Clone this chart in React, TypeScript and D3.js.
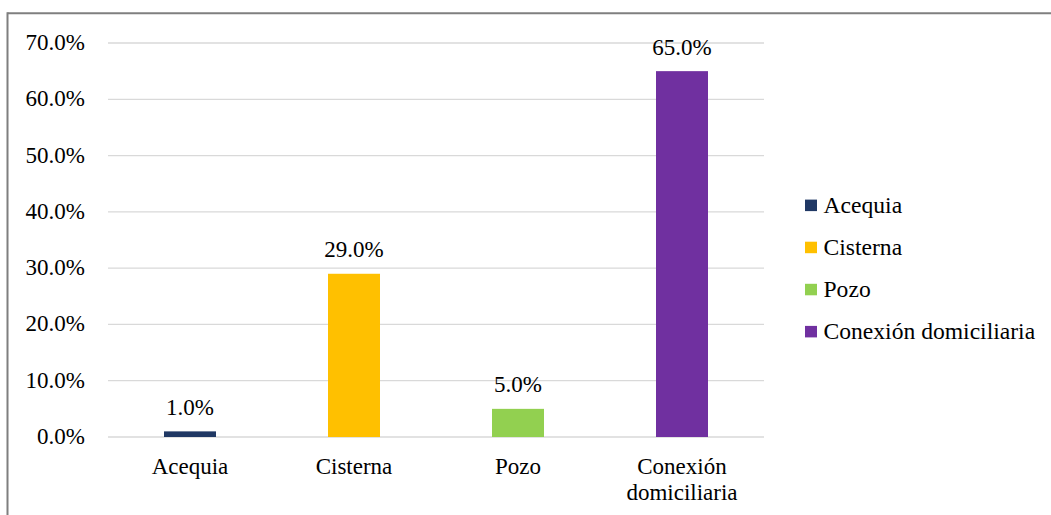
import React from "react";
import * as d3 from "d3";

const categories = ["Acequia", "Cisterna", "Pozo", "Conexión domiciliaria"];
const values = [1.0, 29.0, 5.0, 65.0];
const colors = ["#203864", "#FFC000", "#92D050", "#7030A0"];
const yTicks = [0, 10, 20, 30, 40, 50, 60, 70];
const catLines = [["Acequia"], ["Cisterna"], ["Pozo"], ["Conexión", "domiciliaria"]];

export default function App() {
  const W = 1051, H = 515;
  const x = d3.scaleBand<string>().domain(categories).range([108, 764]);
  const y = d3.scaleLinear().domain([0, 70]).range([437, 43]);
  const barW = 52;
  const font = '"Liberation Serif", Tinos, "Times New Roman", serif';
  const fs = 23;
  return (
    <svg width={W} height={H} style={{ position: "absolute", left: 0, top: 0, fontFamily: font }}>
      <rect width={W} height={H} fill="#fff" />
      <line x1={7.5} y1={13.3} x2={W} y2={13.3} stroke="#7f7f7f" strokeWidth={2} />
      <line x1={7.5} y1={12.3} x2={7.5} y2={H} stroke="#7f7f7f" strokeWidth={2} />
      {yTicks.map((t) => (
        <g key={t}>
          <line x1={108} x2={764} y1={y(t)} y2={y(t)} stroke="#d9d9d9" strokeWidth={1.3} />
          <text x={85} y={y(t) + 7} textAnchor="end" fontSize={fs} fill="#000" style={{ fontFamily: font }}>
            {t.toFixed(1)}%
          </text>
        </g>
      ))}
      {categories.map((c, i) => {
        const cx = x(c)! + x.bandwidth() / 2;
        return (
          <g key={c}>
            <rect x={cx - barW / 2} y={y(values[i])} width={barW} height={y(0) - y(values[i])} fill={colors[i]} />
            <text x={cx} y={y(values[i]) - 16.5} textAnchor="middle" fontSize={fs} fill="#000" style={{ fontFamily: font }}>
              {values[i].toFixed(1)}%
            </text>
            {catLines[i].map((l, j) => (
              <text key={j} x={cx} y={474 + j * 26} textAnchor="middle" fontSize={fs} fill="#000" style={{ fontFamily: font }}>
                {l}
              </text>
            ))}
          </g>
        );
      })}
      {categories.map((c, i) => {
        const cy = 205.3 + i * 42.1;
        return (
          <g key={c}>
            <rect x={805} y={cy - 5.7} width={12} height={11.5} fill={colors[i]} />
            <text x={823.5} y={cy + 7.6} fontSize={23.6} fill="#000" style={{ fontFamily: font }}>
              {c}
            </text>
          </g>
        );
      })}
    </svg>
  );
}
